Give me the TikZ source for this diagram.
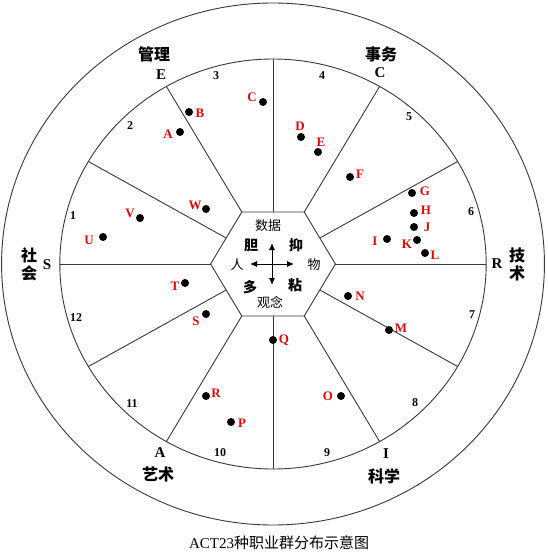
\documentclass[tikz,border=0pt]{standalone}
\usepackage{fontspec}
\setmainfont{Liberation Serif}
\newfontfamily\cjk{Noto Sans CJK SC}
\usetikzlibrary{arrows.meta}
\definecolor{lblred}{RGB}{215,10,10}
\definecolor{linegray}{RGB}{55,55,55}
\begin{document}
\begin{tikzpicture}[x=1pt,y=-1pt,
  ring/.style={draw=linegray,line width=0.9pt},
  ray/.style={draw=linegray,line width=0.9pt},
  dot/.style={circle,fill=black,inner sep=0pt,minimum size=8pt},
  lbl/.style={text=lblred,font=\fontsize{13}{13}\selectfont\bfseries,inner sep=0pt},
  num/.style={font=\fontsize{12}{12}\selectfont\bfseries,inner sep=0pt},
  typeletter/.style={font=\fontsize{15}{15}\selectfont\bfseries,inner sep=0pt},
  zh/.style={font=\cjk\fontsize{16}{18}\selectfont\bfseries,inner sep=0pt,align=center},
  hz/.style={font=\cjk\fontsize{13}{13}\selectfont,inner sep=0pt},
  hzb/.style={font=\cjk\fontsize{14}{14}\selectfont\bfseries,inner sep=0pt},
  arr/.style={{Latex[length=7pt,width=6pt]}-{Latex[length=7pt,width=6pt]},line width=0.9pt}
]
\useasboundingbox (0,0) rectangle (548,559);
\fill[white] (0,0) rectangle (548,559);
\begin{scope}[shift={(273,264)},xscale=1.04]
  \draw[ring] (0,0) circle[radius=261pt];
  \draw[ring] (0,0) circle[radius=205pt];
  \draw[ray] (0:60pt) -- (60:60pt) -- (120:60pt) -- (180:60pt) -- (240:60pt) -- (300:60pt) -- cycle;
  \foreach \a in {0,60,...,300} \draw[ray] (\a:60pt) -- (\a:205pt);
  \foreach \a in {30,90,...,330} \draw[ray] (\a:51.96pt) -- (\a:205pt);
\end{scope}

% type letters and group names
\node[zh] (gl) at (154,54) {管理};
\node[typeletter] (tE) at (161,75) {E};
\node[zh] (sw) at (381,54) {事务};
\node[typeletter] (tC) at (380,73) {C};
\node[zh] (sh) at (29,264) {社\\会};
\node[typeletter] (tS) at (47,265) {S};
\node[zh] (js) at (517,264) {技\\术};
\node[typeletter] (tR) at (497,264) {R};
\node[typeletter] (tA) at (160,453) {A};
\node[zh] (ys) at (158,474) {艺术};
\node[typeletter] (tI) at (386,454) {I};
\node[zh] (kx) at (384,476) {科学};

% sector numbers
\node[num] (n1) at (73,216) {1};
\node[num] (n2) at (130,126) {2};
\node[num] (n3) at (216,76) {3};
\node[num] (n4) at (322,76) {4};
\node[num] (n5) at (409,117) {5};
\node[num] (n6) at (471,212) {6};
\node[num] (n7) at (472,315) {7};
\node[num] (n8) at (415,403) {8};
\node[num] (n9) at (327,453) {9};
\node[num] (n10) at (220,453) {10};
\node[num] (n11) at (132,404) {11};
\node[num] (n12) at (76,318) {12};

% job groups
\node[dot] (dA) at (180,132) {}; \node[lbl] (lA) at (168,134) {A};
\node[dot] (dB) at (189,112) {}; \node[lbl] (lB) at (200,113) {B};
\node[dot] (dC) at (263,102) {}; \node[lbl] (lC) at (252,97) {C};
\node[dot] (dD) at (301,137) {}; \node[lbl] (lD) at (300,126) {D};
\node[dot] (dE) at (318,152) {}; \node[lbl] (lE) at (321,142) {E};
\node[dot] (dF) at (350,177) {}; \node[lbl] (lF) at (360,174) {F};
\node[dot] (dG) at (412,193) {}; \node[lbl] (lG) at (425,191) {G};
\node[dot] (dH) at (414,213) {}; \node[lbl] (lH) at (426,210) {H};
\node[dot] (dJ) at (414,227) {}; \node[lbl] (lJ) at (427,227) {J};
\node[dot] (dI) at (387,239) {}; \node[lbl] (lI) at (375,241) {I};
\node[dot] (dK) at (417,240) {}; \node[lbl] (lK) at (407,244) {K};
\node[dot] (dL) at (425,253) {}; \node[lbl] (lL) at (435,255) {L};
\node[dot] (dN) at (348,296) {}; \node[lbl] (lN) at (360,296) {N};
\node[dot] (dM) at (389,330) {}; \node[lbl] (lM) at (401,328) {M};
\node[dot] (dQ) at (273,340) {}; \node[lbl] (lQ) at (284,340) {Q};
\node[dot] (dO) at (341,396) {}; \node[lbl] (lO) at (328,396) {O};
\node[dot] (dP) at (231,422) {}; \node[lbl] (lP) at (242,423) {P};
\node[dot] (dR) at (206,396) {}; \node[lbl] (lR) at (216,393) {R};
\node[dot] (dS) at (206,314) {}; \node[lbl] (lS) at (196,321) {S};
\node[dot] (dT) at (185,283) {}; \node[lbl] (lT) at (175,286) {T};
\node[dot] (dU) at (103,237) {}; \node[lbl] (lU) at (89,240) {U};
\node[dot] (dV) at (140,218) {}; \node[lbl] (lV) at (130,213) {V};
\node[dot] (dW) at (206,209) {}; \node[lbl] (lW) at (195,205) {W};

% hexagon centre
\node[hz] (sj) at (268,226) {数据};
\node[hz] (gn) at (270,302) {观念};
\node[hz] (ren) at (237,265) {人};
\node[hz] (wu) at (314,265) {物};
\node[hzb] (dan) at (251,245) {胆};
\node[hzb] (yi) at (296,245) {抑};
\node[hzb] (duo) at (250,287) {多};
\node[hzb] (nian) at (295,285) {粘};
\coordinate (up) at (272,243);
\coordinate (dn) at (272,285);
\coordinate (lf) at (250,264);
\coordinate (rt) at (294,264);
\draw[arr] (up) -- (dn);
\draw[arr] (lf) -- (rt);

% caption
\node[font=\fontsize{15}{15}\selectfont,inner sep=0pt] (capt) at (279,543) {ACT23{\cjk 种职业群分布示意图}};
\end{tikzpicture}
\end{document}
